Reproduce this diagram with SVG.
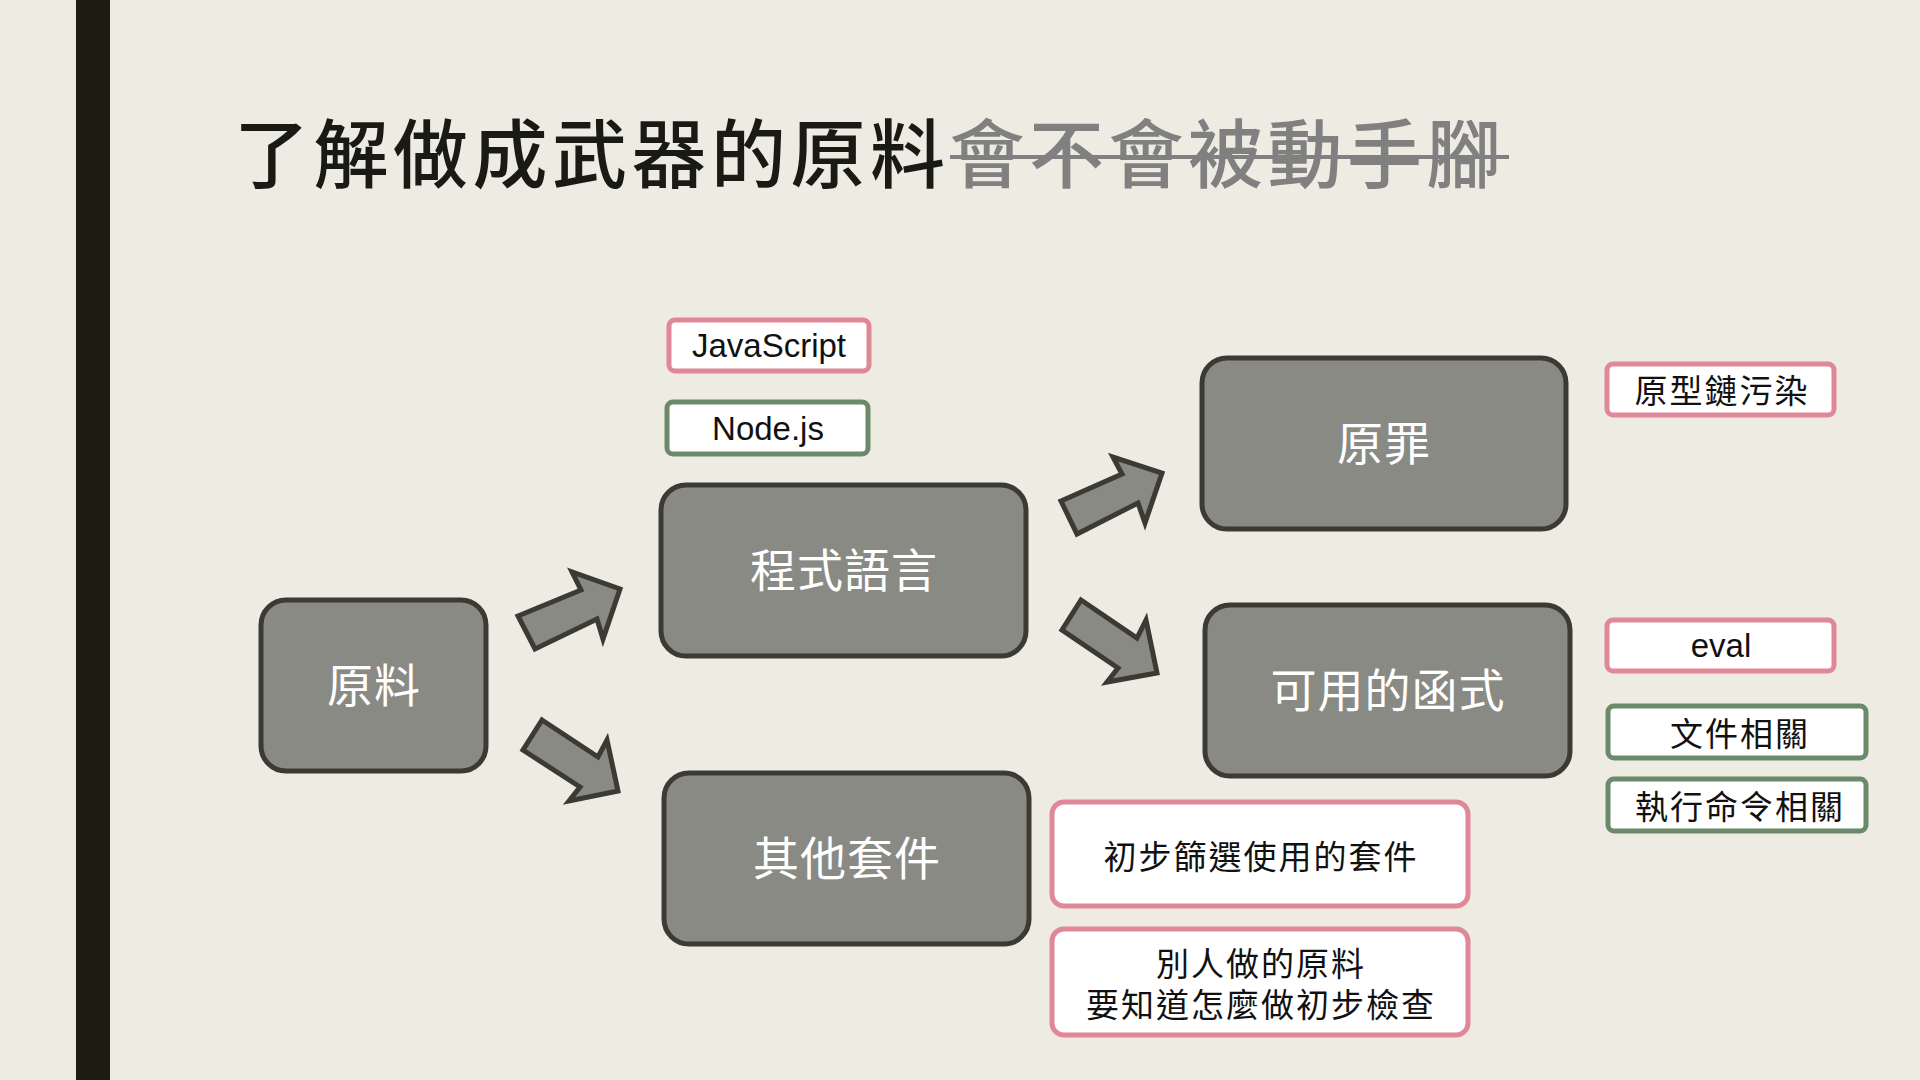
<svg xmlns="http://www.w3.org/2000/svg" width="1920" height="1080" viewBox="0 0 1920 1080">
<style>
.node rect{fill:#8a8a84;stroke:#3b3a33;stroke-width:5}
.node text{font-family:"Noto Sans CJK TC","Noto Sans CJK SC",sans-serif;font-size:46px;fill:#ffffff;text-anchor:middle;letter-spacing:1px}
.lbl rect{fill:#ffffff;stroke-width:5}
.pink rect{stroke:#e08898}
.green rect{stroke:#6a8a6a}
.lbl text{font-family:"Noto Sans CJK TC","Noto Sans CJK SC",sans-serif;font-size:33px;fill:#111111;text-anchor:middle;letter-spacing:2px}
.lbl text.lat{font-family:"Liberation Sans",Arial,sans-serif;font-size:33px;letter-spacing:0}
.arrow{fill:#8a8a84;stroke:#3b3a33;stroke-width:5;stroke-linejoin:miter}
</style>
<rect x="0" y="0" width="1920" height="1080" fill="#eeebe3"/>
<rect x="76" y="0" width="34" height="1080" fill="#1d1d11"/>
<g id="title">
<text x="234" y="182" font-family="'Noto Sans CJK TC','Noto Sans CJK SC',sans-serif" font-size="75" font-weight="500" letter-spacing="4.5" fill="#1a1a14">了解做成武器的原料<tspan fill="#808080">會不會被動手腳</tspan></text>
<line x1="950" y1="157" x2="1509" y2="157" stroke="#808080" stroke-width="4"/>
</g>
<g id="connectors">
<polygon class="arrow" points="518,616 581,590 572,572 620,589 603,639 597,619 535,649"/>
<polygon class="arrow" points="542,720 598,757 607,740 618,791 569,801 580,787 523,750"/>
<polygon class="arrow" points="1061,501 1122,474 1113,457 1162,473 1145,523 1138,503 1077,534"/>
<polygon class="arrow" points="1081,600 1137,638 1146,620 1157,673 1107,682 1118,668 1062,630"/>
</g>
<g id="node-yuanliao" class="node"><rect x="261" y="600" width="225" height="171" rx="25"/><text x="374" y="702">原料</text></g>
<g id="node-chengshi" class="node"><rect x="661" y="485" width="365" height="171" rx="25"/><text x="844" y="587">程式語言</text></g>
<g id="node-qita" class="node"><rect x="664" y="773" width="365" height="171" rx="25"/><text x="847" y="875">其他套件</text></g>
<g id="node-yuanzui" class="node"><rect x="1202" y="358" width="364" height="171" rx="25"/><text x="1384" y="460">原罪</text></g>
<g id="node-hanshi" class="node"><rect x="1205" y="605" width="365" height="171" rx="25"/><text x="1388" y="707">可用的函式</text></g>
<g id="lbl-js" class="lbl pink"><rect x="669" y="320" width="200" height="51" rx="6"/><text class="lat" x="769" y="357">JavaScript</text></g>
<g id="lbl-node" class="lbl green"><rect x="667" y="402" width="201" height="52" rx="6"/><text class="lat" x="768" y="440">Node.js</text></g>
<g id="lbl-proto" class="lbl pink"><rect x="1607" y="364" width="227" height="51" rx="6"/><text x="1722" y="403">原型鏈污染</text></g>
<g id="lbl-eval" class="lbl pink"><rect x="1607" y="620" width="227" height="51" rx="6"/><text class="lat" x="1721" y="657">eval</text></g>
<g id="lbl-file" class="lbl green"><rect x="1608" y="706" width="258" height="52" rx="6"/><text x="1740" y="746">文件相關</text></g>
<g id="lbl-exec" class="lbl green"><rect x="1608" y="779" width="258" height="52" rx="6"/><text x="1740" y="819">執行命令相關</text></g>
<g id="lbl-filter" class="lbl pink"><rect x="1052" y="802" width="416" height="104" rx="12"/><text x="1261" y="869">初步篩選使用的套件</text></g>
<g id="lbl-others" class="lbl pink"><rect x="1052" y="929" width="416" height="106" rx="12"/><text x="1261" y="976">別人做的原料<tspan x="1261" y="1017">要知道怎麼做初步檢查</tspan></text></g>
</svg>
